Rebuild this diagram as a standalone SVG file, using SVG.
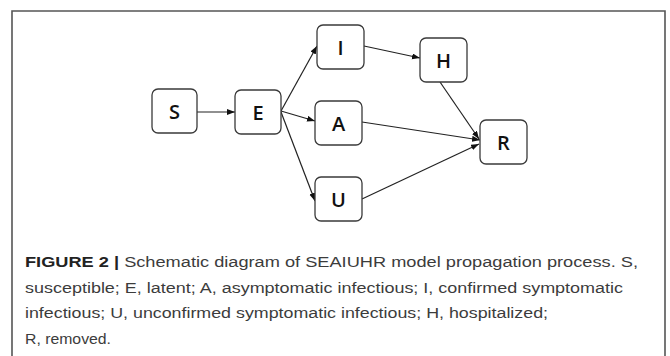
<svg xmlns="http://www.w3.org/2000/svg" width="670" height="356" viewBox="0 0 670 356">
<style>
.box{fill:#fff;stroke:#3a3a3a;stroke-width:1.3}
.lbl{font-family:"Open Sans","Noto Sans","Liberation Sans",sans-serif;font-size:20px;font-weight:600;fill:#111;text-anchor:middle;dominant-baseline:central}
.edge{stroke:#222;stroke-width:1.2;fill:none;marker-end:url(#ah)}
.cap{font-family:"Liberation Sans",Arial,sans-serif;font-size:15.5px;fill:#3c3c3c}
.capb{font-weight:bold;fill:#222}
</style>
<defs>
<marker id="ah" markerUnits="userSpaceOnUse" markerWidth="9" markerHeight="7" refX="8" refY="3" orient="auto">
<path d="M0,0 L8,3 L0,6 z" fill="#111"/>
</marker>
</defs>
<rect width="670" height="356" fill="#fff"/>
<path d="M12,357 V11 H665 V357" fill="none" stroke="#555" stroke-width="1.6"/>
<g id="connectors">
<line class="edge" x1="197" y1="112" x2="235" y2="112"/>
<line class="edge" x1="281" y1="111" x2="317" y2="46"/>
<line class="edge" x1="281" y1="111" x2="315" y2="121"/>
<line class="edge" x1="281" y1="112" x2="315" y2="201"/>
<line class="edge" x1="364" y1="46" x2="420" y2="58"/>
<line class="edge" x1="440" y1="82" x2="479" y2="139"/>
<line class="edge" x1="362" y1="122" x2="480" y2="140"/>
<line class="edge" x1="362" y1="199" x2="479" y2="144"/>
</g>
<g id="node-S"><rect class="box" x="152" y="89" width="45" height="44" rx="6"/><text class="lbl" x="174.5" y="111">S</text></g>
<g id="node-E"><rect class="box" x="235" y="90" width="46" height="44" rx="6"/><text class="lbl" x="258" y="112">E</text></g>
<g id="node-I"><rect class="box" x="317" y="25" width="47" height="44" rx="6"/><text class="lbl" x="340.5" y="47">I</text></g>
<g id="node-H"><rect class="box" x="420" y="38" width="47" height="44" rx="6"/><text class="lbl" x="443.5" y="60">H</text></g>
<g id="node-A"><rect class="box" x="315" y="101" width="47" height="44" rx="6"/><text class="lbl" x="338.5" y="123">A</text></g>
<g id="node-U"><rect class="box" x="315" y="177" width="47" height="44" rx="6"/><text class="lbl" x="338.5" y="199">U</text></g>
<g id="node-R"><rect class="box" x="480" y="120" width="47" height="44" rx="6"/><text class="lbl" x="503.5" y="142">R</text></g>
<g id="caption">
<text class="cap" x="25" y="267" textLength="613" lengthAdjust="spacingAndGlyphs"><tspan class="capb">FIGURE 2 |</tspan> Schematic diagram of SEAIUHR model propagation process. S,</text>
<text class="cap" x="25" y="293" textLength="598" lengthAdjust="spacingAndGlyphs">susceptible; E, latent; A, asymptomatic infectious; I, confirmed symptomatic</text>
<text class="cap" x="25" y="318" textLength="523" lengthAdjust="spacingAndGlyphs">infectious; U, unconfirmed symptomatic infectious; H, hospitalized;</text>
<text class="cap" x="25" y="344" textLength="86" lengthAdjust="spacingAndGlyphs">R, removed.</text>
</g>
</svg>
